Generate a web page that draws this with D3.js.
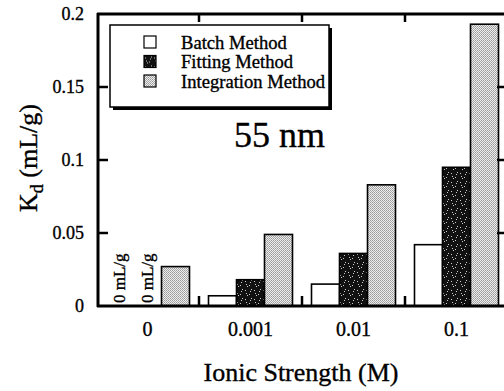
<!DOCTYPE html>
<html>
<head>
<meta charset="utf-8">
<script src="https://cdn.jsdelivr.net/npm/d3@7"></script>
<style>
  body { margin: 0; background: #fff; }
  text { font-family: 'Liberation Serif', 'Times New Roman', serif; stroke: #000; stroke-width: 0.35px; }
</style>
</head>
<body>
<svg id="chart" width="504" height="391"></svg>
<script>
const categories = ['0', '0.001', '0.01', '0.1']
const seriesNames = ['Batch Method', 'Fitting Method', 'Integration Method']
const batchValues = [0, 0.007, 0.015, 0.042]
const fittingValues = [0, 0.018, 0.036, 0.095]
const integrationValues = [0.027, 0.049, 0.083, 0.193]
const yTicks = [0, 0.05, 0.1, 0.15, 0.2]
const yTickLabels = ['0', '0.05', '0.1', '0.15', '0.2']

const series = [batchValues, fittingValues, integrationValues]
const svg = d3.select('#chart')

const x = d3.scaleBand().domain(categories).range([96, 508]).paddingInner(0).paddingOuter(0)
const sub = d3.scaleBand().domain(d3.range(3)).range([x.bandwidth() / 2 - 42, x.bandwidth() / 2 + 42])
const y = d3.scaleLinear().domain([0, 0.2]).range([306, 14])

// fill patterns
const defs = svg.append('defs')
const dark = defs.append('pattern').attr('id', 'pat-fit')
  .attr('width', 9).attr('height', 9).attr('patternUnits', 'userSpaceOnUse')
dark.append('rect').attr('width', 9).attr('height', 9).attr('fill', '#111')
;[[1, 2], [5, 6], [7, 1], [3, 7], [6, 3], [2, 5]].forEach(([a, b]) => {
  dark.append('rect').attr('x', a).attr('y', b).attr('width', 1).attr('height', 1).attr('fill', '#ccc')
})
const grey = defs.append('pattern').attr('id', 'pat-int')
  .attr('width', 2).attr('height', 2).attr('patternUnits', 'userSpaceOnUse')
grey.append('rect').attr('width', 2).attr('height', 2).attr('fill', '#eee')
grey.append('rect').attr('width', 1).attr('height', 1).attr('fill', '#999')
grey.append('rect').attr('x', 1).attr('y', 1).attr('width', 1).attr('height', 1).attr('fill', '#aaa')
const fills = ['#fff', 'url(#pat-fit)', 'url(#pat-int)']

// bars
const group = svg.append('g').selectAll('g').data(categories).join('g')
  .attr('transform', d => `translate(${x(d)},0)`)
group.selectAll('rect')
  .data((c, i) => series.map((s, k) => ({ k, v: s[i] })).filter(d => d.v > 0))
  .join('rect')
  .attr('x', d => sub(d.k))
  .attr('width', sub.bandwidth())
  .attr('y', d => y(d.v))
  .attr('height', d => y(0) - y(d.v))
  .attr('fill', d => fills[d.k])
  .attr('stroke', '#000')
  .attr('stroke-width', 1.6)

// zero-value labels
group.selectAll('text.zero')
  .data((c, i) => series.map((s, k) => ({ k, v: s[i] })).filter(d => d.v === 0))
  .join('text').classed('zero', true)
  .attr('transform', d => `translate(${sub(d.k) + sub.bandwidth() / 2 + 5},${y(0) - 3}) rotate(-90)`)
  .style('font-size', '17px')
  .text('0 mL/g')

// axes frame
const frame = svg.append('g').attr('stroke', '#000').attr('fill', 'none')
frame.append('line').attr('x1', 98).attr('x2', 98).attr('y1', 13).attr('y2', 307).attr('stroke-width', 3)
frame.append('line').attr('x1', 97).attr('x2', 510).attr('y1', y(0)).attr('y2', y(0)).attr('stroke-width', 3)
frame.append('line').attr('x1', 97).attr('x2', 510).attr('y1', 14).attr('y2', 14).attr('stroke-width', 3)
frame.append('line').attr('x1', 508).attr('x2', 508).attr('y1', 13).attr('y2', 307).attr('stroke-width', 3)

// y ticks, left and right, pointing in
const inner = yTicks.slice(1, -1)
frame.selectAll('.yl').data(inner).join('line')
  .attr('x1', 98).attr('x2', 108).attr('y1', d => y(d)).attr('y2', d => y(d)).attr('stroke-width', 2.5)
frame.selectAll('.yr').data(inner).join('line')
  .attr('x1', 497).attr('x2', 508).attr('y1', d => y(d)).attr('y2', d => y(d)).attr('stroke-width', 2.5)

// x ticks at category boundaries, top and bottom
const bounds = categories.slice(1).map(c => x(c))
frame.selectAll('.xb').data(bounds).join('line')
  .attr('x1', d => d).attr('x2', d => d).attr('y1', y(0)).attr('y2', y(0) - 10).attr('stroke-width', 2.5)
frame.selectAll('.xt').data(bounds).join('line')
  .attr('x1', d => d).attr('x2', d => d).attr('y1', 14).attr('y2', 22).attr('stroke-width', 2.5)

// tick labels
svg.append('g').selectAll('text').data(yTicks).join('text')
  .attr('x', 84).attr('y', d => y(d) + 6)
  .attr('text-anchor', 'end').style('font-size', '18px')
  .text((d, i) => yTickLabels[i])
svg.append('g').selectAll('text').data(categories).join('text')
  .attr('x', d => x(d) + x.bandwidth() / 2).attr('y', 336)
  .attr('text-anchor', 'middle').style('font-size', '20px')
  .text(d => d)

// axis titles
svg.append('text').attr('x', 301).attr('y', 381).attr('text-anchor', 'middle')
  .style('font-size', '26px').text('Ionic Strength (M)')
const yTitle = svg.append('text').attr('transform', 'translate(37,158) rotate(-90)')
  .attr('text-anchor', 'middle').style('font-size', '26px')
yTitle.append('tspan').text('K')
yTitle.append('tspan').attr('dy', 6).style('font-size', '18px').text('d')
yTitle.append('tspan').attr('dy', -6).text(' (mL/g)')

// annotation
svg.append('text').attr('x', 234).attr('y', 147).style('font-size', '36px').text('55 nm')

// legend
const lg = svg.append('g')
lg.append('rect').attr('x', 113).attr('y', 28).attr('width', 219).attr('height', 82).attr('fill', '#000')
lg.append('rect').attr('x', 110).attr('y', 25).attr('width', 219).attr('height', 82)
  .attr('fill', '#fff').attr('stroke', '#000').attr('stroke-width', 1.5)
const item = lg.selectAll('g').data(seriesNames).join('g')
  .attr('transform', (d, i) => `translate(144,${36 + i * 19.5})`)
item.append('rect').attr('width', 12).attr('height', 12)
  .attr('fill', (d, i) => fills[i]).attr('stroke', '#000').attr('stroke-width', 1.2)
item.append('text').attr('x', 37).attr('y', 12.5).style('font-size', '18.6px').text(d => d)
</script>
</body>
</html>
